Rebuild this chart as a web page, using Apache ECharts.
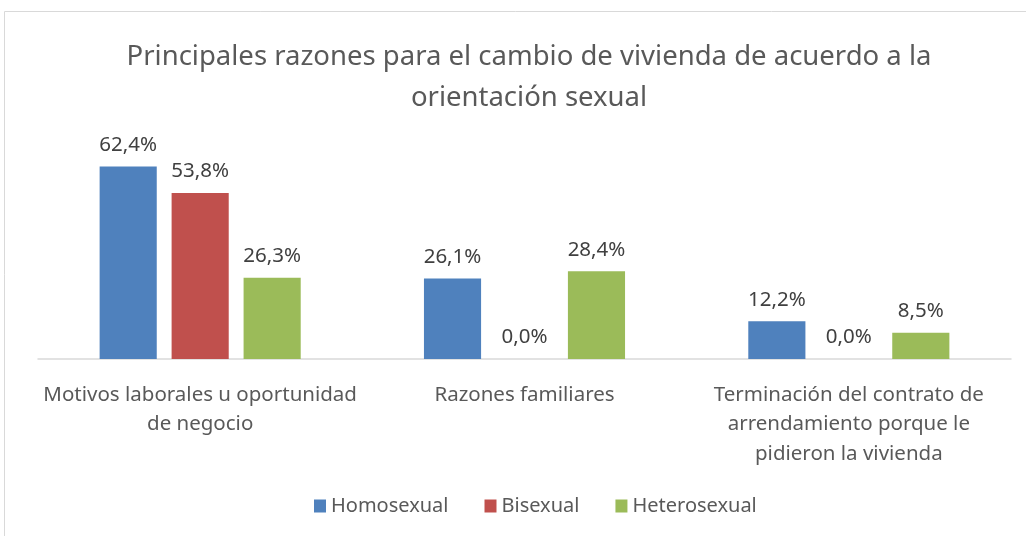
<!DOCTYPE html>
<html><head><meta charset="utf-8">
<script src="https://cdn.jsdelivr.net/npm/echarts@6/dist/echarts.min.js"></script>
<style>html,body{margin:0;padding:0;background:#fff}#c{width:1026px;height:536px}</style>
</head><body><div id="c"></div>
<script>
const categories = ["Motivos laborales u oportunidad\nde negocio", "Razones familiares", "Terminación del contrato de\narrendamiento porque le\npidieron la vivienda"];
const seriesNames = ["Homosexual", "Bisexual", "Heterosexual"];
const homosexual = [62.4, 26.1, 12.2];
const bisexual = [53.8, 0.0, 0.0];
const heterosexual = [26.3, 28.4, 8.5];
const colors = ["#4f81bd", "#c0504d", "#9bbb59"];
const FONT = "'Noto Sans', sans-serif";
const fmt = p => p.value.toFixed(1).replace('.', ',') + '%';
const chart = echarts.init(document.getElementById('c'));
chart.setOption({
  animation: false,
  graphic: [{type:'rect', shape:{x:4.5,y:11.5,width:1030,height:540}, style:{fill:'none', stroke:'#d9d9d9', lineWidth:1}, silent:true}],
  title: {text: "Principales razones para el cambio de vivienda de acuerdo a la\norientación sexual", left: 524, textAlign:'center', top: 32,
    textStyle:{fontFamily:FONT, fontSize:27.5, fontWeight:'normal', color:'#595959', lineHeight:41}},
  legend: {data: seriesNames, bottom: 15, left: 309, itemWidth:12, itemHeight:13, itemGap:36,
    textStyle:{fontFamily:FONT, fontSize:20, color:'#595959'}, icon:'rect'},
  grid: {left:38, right:15, top:143, bottom:177},
  xAxis: {type:'category', data: categories, axisLine:{lineStyle:{color:'#d9d9d9', width:1.5}}, axisTick:{show:false},
    axisLabel:{fontFamily:FONT, fontSize:20.5, color:'#595959', lineHeight:29.5, margin:21, interval:0}},
  yAxis: {type:'value', min:0, max:70, show:false, splitLine:{show:false}},
  series: [homosexual, bisexual, heterosexual].map((d,i)=>({
    name: seriesNames[i], type:'bar', data:d, itemStyle:{color:colors[i]},
    barGap:'26%', barCategoryGap:'38%',
    label:{show:true, position:'top', distance:11, formatter:fmt, fontFamily:FONT, fontSize:20.5, color:'#404040'}
  }))
});
</script></body></html>
